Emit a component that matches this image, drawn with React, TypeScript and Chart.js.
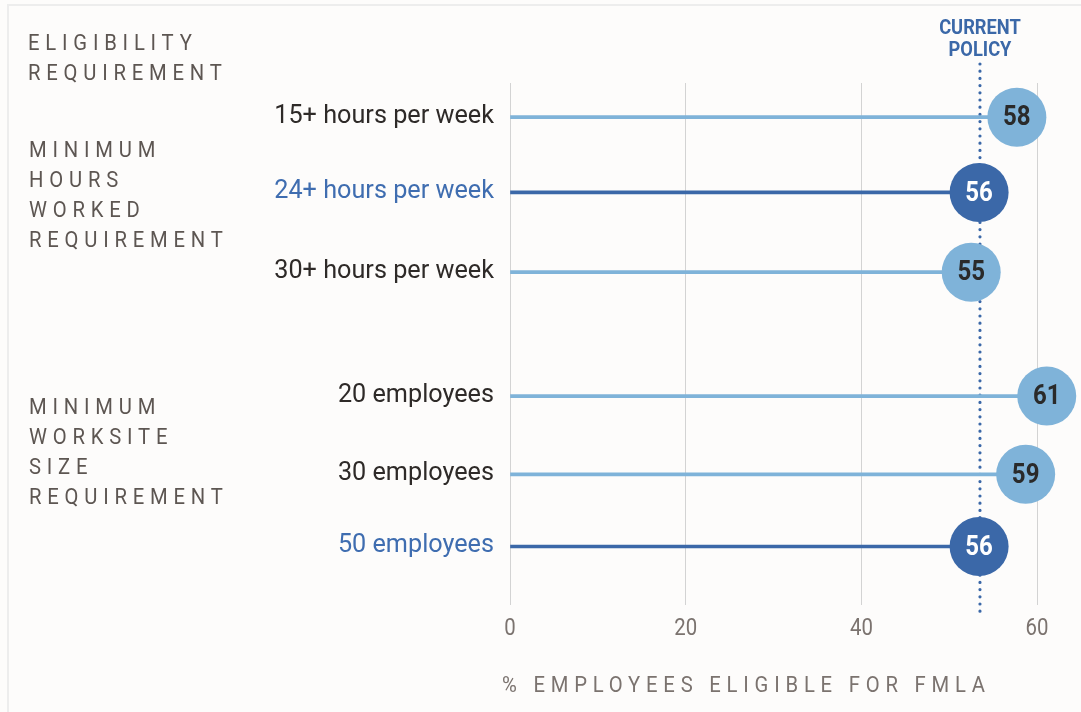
import React, { useEffect, useRef } from "react";
import { Chart, registerables } from "chart.js";

Chart.register(...registerables);

// ---- data ----
const categories = [
  "15+ hours per week",
  "24+ hours per week",
  "30+ hours per week",
  "20 employees",
  "30 employees",
  "50 employees",
];
const rowPositions = [0, 0.99, 2.04, 3.67, 4.7, 5.65];
const eligibleValues = [57.7, 53.4, 52.5, 61.1, 58.7, 53.4];
const valueLabels = ["58", "56", "55", "61", "59", "56"];
const isCurrentPolicy = [false, true, false, false, false, true];
const currentPolicyValue = 53.5;
const xTickValues = [0, 20, 40, 60];
const headerLines = ["ELIGIBILITY", "REQUIREMENT"];
const hoursGroupLines = ["MINIMUM", "HOURS", "WORKED", "REQUIREMENT"];
const sizeGroupLines = ["MINIMUM", "WORKSITE", "SIZE", "REQUIREMENT"];
const axisTitle = "% EMPLOYEES ELIGIBLE FOR FMLA";
const policyLines = ["CURRENT", "POLICY"];

// ---- styles ----
const LIGHT = "#7fb3d9";
const DARK = "#3b68a8";
const BLUE_TEXT = "#3f6db0";
const DARK_TEXT = "#2e2a28";
const SECTION_TEXT = "#5d5652";
const AXIS_TEXT = "#7b736f";
const FONT = "Roboto, 'Noto Sans', sans-serif";

function drawText(
  ctx: CanvasRenderingContext2D,
  s: string,
  x: number,
  y: number,
  o: { font: string; color: string; align?: "left" | "right" | "center"; sx?: number; ls?: number }
) {
  const sx = o.sx ?? 1;
  const ls = o.ls ?? 0;
  ctx.save();
  ctx.font = o.font;
  (ctx as any).letterSpacing = ls + "px";
  ctx.fillStyle = o.color;
  ctx.textBaseline = "middle";
  ctx.textAlign = "left";
  const w = (ctx.measureText(s).width - ls) * sx;
  const align = o.align ?? "left";
  const x0 = align === "left" ? x : align === "right" ? x - w : x - w / 2;
  ctx.translate(x0, y);
  ctx.scale(sx, 1);
  ctx.fillText(s, 0, 0);
  ctx.restore();
}

const decorPlugin = {
  id: "decor",
  beforeDraw(chart: any) {
    const ctx = chart.ctx as CanvasRenderingContext2D;
    ctx.save();
    ctx.fillStyle = "#fdfcfb";
    ctx.fillRect(0, 0, chart.width, chart.height);
    ctx.fillStyle = "#ededed";
    ctx.fillRect(7, 4, 2, chart.height - 4);
    ctx.fillRect(7, 4, chart.width - 7, 2);
    ctx.restore();
  },
  beforeDatasetsDraw(chart: any) {
    const ctx = chart.ctx as CanvasRenderingContext2D;
    const x = chart.scales.x.getPixelForValue(currentPolicyValue);
    ctx.save();
    ctx.strokeStyle = DARK;
    ctx.lineWidth = 3.2;
    ctx.lineCap = "round";
    ctx.setLineDash([0, 7.2]);
    ctx.beginPath();
    ctx.moveTo(x, 64);
    ctx.lineTo(x, 612);
    ctx.stroke();
    ctx.restore();
    policyLines.forEach((t, i) =>
      drawText(ctx, t, x, 29 + i * 22, { font: `bold 21px ${FONT}`, color: DARK, align: "center", sx: 0.87 })
    );
  },
  afterDatasetsDraw(chart: any) {
    const ctx = chart.ctx as CanvasRenderingContext2D;
    const meta = chart.getDatasetMeta(0);
    meta.data.forEach((el: any, i: number) => {
      drawText(ctx, valueLabels[i], el.x, el.y + 1.5, {
        font: `bold 27px ${FONT}`,
        color: isCurrentPolicy[i] ? "#ffffff" : "#2a2a2a",
        align: "center",
        sx: 0.89,
      });
    });
  },
  afterDraw(chart: any) {
    const ctx = chart.ctx as CanvasRenderingContext2D;
    const xs = chart.scales.x;
    const ys = chart.scales.y;
    const left = chart.chartArea.left;
    categories.forEach((c, i) => {
      drawText(ctx, c, left - 16, ys.getPixelForValue(rowPositions[i]) - 0.5, {
        font: `26px ${FONT}`,
        color: isCurrentPolicy[i] ? BLUE_TEXT : DARK_TEXT,
        align: "right",
        sx: 0.97,
      });
    });
    xTickValues.forEach((v) => {
      drawText(ctx, String(v), xs.getPixelForValue(v), 629, {
        font: `24px ${FONT}`,
        color: AXIS_TEXT,
        align: "center",
        sx: 0.85,
      });
    });
    const sec = { font: `22px ${FONT}`, color: SECTION_TEXT, sx: 0.92, ls: 6.3 };
    headerLines.forEach((t, i) => drawText(ctx, t, 28, 44 + i * 30.5, sec));
    hoursGroupLines.forEach((t, i) => drawText(ctx, t, 29, 151 + i * 30, sec));
    sizeGroupLines.forEach((t, i) => drawText(ctx, t, 29, 408 + i * 30, sec));
    drawText(ctx, axisTitle, 502, 686, { ...sec, color: AXIS_TEXT });
  },
};

export default function App() {
  const ref = useRef<HTMLCanvasElement | null>(null);
  useEffect(() => {
    if (!ref.current) return;
    const chart = new Chart(ref.current, {
      type: "bar",
      data: {
        datasets: [
          {
            type: "scatter",
            data: eligibleValues.map((v, i) => ({ x: v, y: rowPositions[i] })),
            pointRadius: 29.5,
            pointHoverRadius: 29.5,
            pointStyle: "circle",
            borderWidth: 0,
            pointBorderWidth: 0,
            backgroundColor: isCurrentPolicy.map((c) => (c ? DARK : LIGHT)),
            pointBackgroundColor: isCurrentPolicy.map((c) => (c ? DARK : LIGHT)),
            clip: false,
            order: 0,
          } as any,
          {
            type: "bar",
            indexAxis: "y",
            data: eligibleValues.map((v, i) => ({ x: v, y: rowPositions[i] })),
            barThickness: 3,
            backgroundColor: isCurrentPolicy.map((c) => (c ? DARK : LIGHT)),
            borderWidth: 0,
            order: 1,
          } as any,
        ],
      },
      options: {
        animation: false,
        responsive: false,
        events: [],
        indexAxis: "y",
        layout: { autoPadding: false, padding: { left: 510, right: 0, top: 83, bottom: 107 } },
        plugins: { legend: { display: false }, tooltip: { enabled: false } },
        scales: {
          x: {
            type: "linear",
            min: 0,
            max: 65,
            offset: false,
            afterBuildTicks: (s: any) => {
              s.ticks = xTickValues.map((v) => ({ value: v }));
            },
            afterFit: (s: any) => {
              s.height = 0;
            },
            ticks: { display: false },
            grid: { color: "#d3d3d3", lineWidth: 1, drawTicks: false, offset: false },
            border: { display: false },
          },
          y: {
            type: "linear",
            reverse: true,
            min: -0.45,
            max: 6.42,
            offset: false,
            grid: { offset: false },
            display: false,
          },
        },
      } as any,
      plugins: [decorPlugin],
    });
    return () => chart.destroy();
  }, []);
  return (
    <div style={{ position: "fixed", left: 0, top: 0, width: 1081, height: 712, background: "#fdfcfb" }}>
      <canvas ref={ref} width={1081} height={712} style={{ display: "block" }} />
    </div>
  );
}
